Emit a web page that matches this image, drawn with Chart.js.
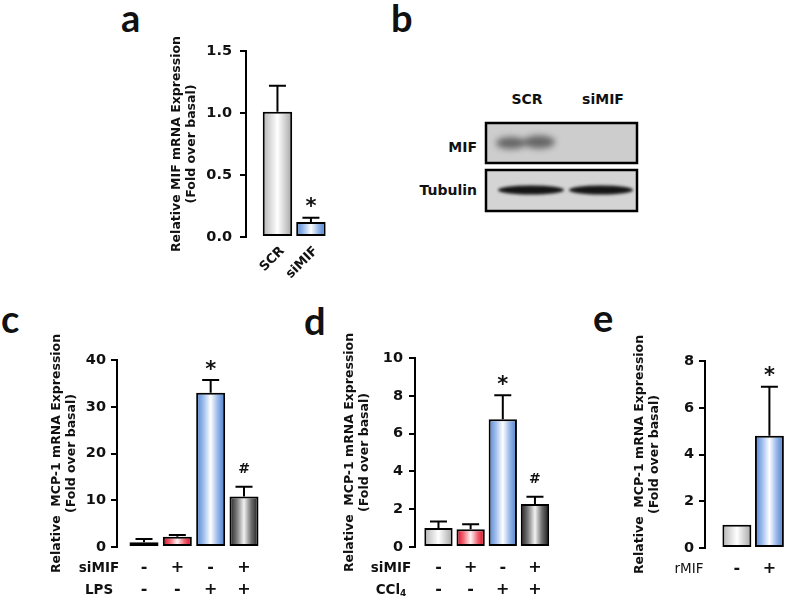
<!DOCTYPE html>
<html>
<head>
<meta charset="utf-8">
<script src="https://cdn.jsdelivr.net/npm/chart.js@4.4.1/dist/chart.umd.min.js"></script>
<style>
  body { margin: 0; background: #fff; }
  #page { position: relative; width: 787px; height: 600px; overflow: hidden; background: #fff; }
  canvas { position: absolute; }
  .letter { position: absolute; font: bold 38px Lato, sans-serif; line-height: 38px; color: #111; }
  .blot-lbl { position: absolute; font: bold 14px "DejaVu Sans", sans-serif; line-height: 16px; color: #111; white-space: nowrap; }
</style>
</head>
<body>
<div id="page">
  <div class="letter" style="left:121px;top:-2px">a</div>
  <div class="letter" style="left:391px;top:-2px">b</div>
  <div class="letter" style="left:1px;top:299px">c</div>
  <div class="letter" style="left:304px;top:301px">d</div>
  <div class="letter" style="left:593px;top:298px">e</div>

  <div class="blot-lbl" style="left:497px;top:91px;width:60px;text-align:center">SCR</div>
  <div class="blot-lbl" style="left:573px;top:91px;width:60px;text-align:center">siMIF</div>
  <div class="blot-lbl" style="left:417px;top:139px;width:60px;text-align:right">MIF</div>
  <div class="blot-lbl" style="left:397px;top:182px;width:80px;text-align:right">Tubulin</div>
  <canvas id="blot" width="165" height="105" style="left:480px;top:115px"></canvas>

  <canvas id="chartA" width="240" height="300" style="left:100px;top:0px"></canvas>
  <canvas id="chartC" width="280" height="300" style="left:0px;top:300px"></canvas>
  <canvas id="chartD" width="280" height="300" style="left:280px;top:300px"></canvas>
  <canvas id="chartE" width="227" height="300" style="left:560px;top:300px"></canvas>
</div>
<script>
// ---- data ----
// a: MIF mRNA after knock-down
const aLabels = ['SCR', 'siMIF'];
const aMean = [1.01, 0.12];
const aErr = [0.21, 0.035];
const aSig = ['', '*'];
const aTicks = [0, 0.5, 1.0, 1.5];
const aTickLabels = ['0.0', '0.5', '1.0', '1.5'];

// c: MCP-1 with LPS
const cSiMIF = ['-', '+', '-', '+'];
const cLPS = ['-', '-', '+', '+'];
const cMean = [1.0, 2.2, 33.0, 10.8];
const cErr = [0.7, 0.35, 2.7, 2.1];
const cSig = ['', '', '*', '#'];
const cTicks = [0, 10, 20, 30, 40];
const cTickLabels = ['0', '10', '20', '30', '40'];

// d: MCP-1 with CCl4
const dSiMIF = ['-', '+', '-', '+'];
const dCCl4 = ['-', '-', '+', '+'];
const dMean = [1.0, 0.94, 6.76, 2.28];
const dErr = [0.35, 0.26, 1.27, 0.38];
const dSig = ['', '', '*', '#'];
const dTicks = [0, 2, 4, 6, 8, 10];
const dTickLabels = ['0', '2', '4', '6', '8', '10'];

// e: MCP-1 with recombinant MIF
const eRMIF = ['-', '+'];
const eMean = [1.0, 4.8];
const eErr = [0, 2.1];
const eSig = ['', '*'];
const eTicks = [0, 2, 4, 6, 8];
const eTickLabels = ['0', '2', '4', '6', '8'];

const FONT = '"DejaVu Sans", sans-serif';
const MCP_TITLE = ['Relative  MCP-1 mRNA Expression', '(Fold over basal)'];

// cylinder-like fills: edge, shoulder, centre, shoulder, edge
const palette = {
  grey: ['#b3b3b3', '#d9d9d9', '#ffffff', '#d2d2d2', '#a4a4a4'],
  blue: ['#4f84d2', '#9dbdec', '#ffffff', '#95b6e8', '#4a7cca'],
  red: ['#e0001a', '#f06a78', '#fff4f4', '#ee6271', '#d80018'],
  dark: ['#1e1e1e', '#7a7a7a', '#f2f2f2', '#6e6e6e', '#181818']
};

function barFill(fills, pct) {
  return ctx => {
    if (ctx.type !== 'data') return '#ccc';
    const x = ctx.chart.scales.x;
    const cx = x ? x.getPixelForValue(ctx.dataIndex) : NaN;
    const half = x ? (x.getPixelForValue(1) - x.getPixelForValue(0)) * pct / 2 : NaN;
    const c = palette[fills[ctx.dataIndex]];
    if (!isFinite(cx) || !isFinite(half) || half <= 0) return c[0];
    const g = ctx.chart.ctx.createLinearGradient(cx - half, 0, cx + half, 0);
    c.forEach((col, k) => g.addColorStop(k / (c.length - 1), col));
    return g;
  };
}

// error bars, significance marks and the +/- rows under the bars
function makeExtras(cfg) {
  return {
    id: 'extras',
    afterDatasetsDraw(chart) {
      const {ctx, scales: {y}} = chart;
      const bars = chart.getDatasetMeta(0).data;
      ctx.save();
      ctx.strokeStyle = '#000';
      ctx.lineWidth = 2;
      ctx.fillStyle = '#111';
      ctx.textAlign = 'center';
      ctx.textBaseline = 'middle';
      cfg.mean.forEach((m, i) => {
        const b = bars[i];
        const tip = y.getPixelForValue(m + cfg.err[i]);
        if (cfg.err[i] > 0) {
          ctx.beginPath();
          ctx.moveTo(b.x, b.y);
          ctx.lineTo(b.x, tip);
          ctx.moveTo(b.x - 8.5, tip);
          ctx.lineTo(b.x + 8.5, tip);
          ctx.stroke();
        }
        if (cfg.sig[i] === '*') {
          ctx.font = 'bold 21px ' + FONT;
          ctx.fillText('*', b.x, tip - 10);
        } else if (cfg.sig[i] === '#') {
          ctx.font = 'bold 14px ' + FONT;
          ctx.fillText('#', b.x, tip - 17);
        }
      });

      (cfg.rows || []).forEach((row, k) => {
        const ry = y.bottom + 21 + k * 22;
        const wt = row.weight || 'bold';
        ctx.textAlign = 'left';
        ctx.font = wt + ' 13.5px ' + FONT;
        const w1 = ctx.measureText(row.name).width;
        let w2 = 0;
        if (row.sub) {
          ctx.font = wt + ' 9px ' + FONT;
          w2 = ctx.measureText(row.sub).width;
        }
        const sx = cfg.nameX - (w1 + w2) / 2;
        ctx.font = wt + ' 13.5px ' + FONT;
        ctx.fillText(row.name, sx, ry);
        if (row.sub) {
          ctx.font = wt + ' 9px ' + FONT;
          ctx.fillText(row.sub, sx + w1, ry + 4);
        }
        ctx.textAlign = 'center';
        ctx.font = 'bold 16px ' + FONT;
        row.signs.forEach((s, i) => ctx.fillText(s, bars[i].x, ry));
      });

      (cfg.rotLabels || []).forEach((lab, i) => {
        ctx.save();
        ctx.translate(bars[i].x + 5, y.bottom + 12);
        ctx.rotate(-Math.PI / 4);
        ctx.textAlign = 'right';
        ctx.font = 'bold 13px ' + FONT;
        ctx.fillText(lab, 0, 0);
        ctx.restore();
      });
      ctx.restore();
    }
  };
}

function yScale(ticks, labels, title, titleSize, labelPad, boxWidth) {
  return {
    min: ticks[0],
    max: ticks[ticks.length - 1],
    afterBuildTicks: s => { s.ticks = ticks.map(v => ({value: v})); },
    afterFit: s => { s.width = boxWidth; },
    ticks: {
      autoSkip: false,
      color: '#111',
      padding: labelPad,
      font: {family: FONT, size: 14.5, weight: 'bold'},
      callback: (v, i) => labels[i]
    },
    grid: {drawOnChartArea: false, drawTicks: true, tickLength: 6, color: '#000', lineWidth: 2},
    border: {display: true, color: '#000', width: 2},
    title: {
      display: true,
      text: title,
      color: '#111',
      padding: 0,
      font: {family: FONT, size: titleSize, weight: 'bold', lineHeight: 1.2}
    }
  };
}

function barChart(id, o) {
  return new Chart(document.getElementById(id), {
    type: 'bar',
    data: {
      datasets: [{
        data: o.mean.map((v, i) => ({x: i, y: v})),
        backgroundColor: barFill(o.fills, o.barPct),
        borderColor: '#000',
        borderWidth: 2,
        borderSkipped: false,
        barPercentage: o.barPct,
        categoryPercentage: 1
      }]
    },
    options: {
      responsive: false,
      animation: false,
      events: [],
      layout: {padding: o.pad},
      plugins: {legend: {display: false}, tooltip: {enabled: false}},
      scales: {
        x: {type: 'linear', display: false, offset: false, min: o.xMin, max: o.xMax},
        y: yScale(o.ticks, o.tickLabels, o.title, 12.5, o.labelPad, o.boxWidth)
      }
    },
    plugins: [makeExtras(o)]
  });
}

barChart('chartA', {
  mean: aMean, err: aErr, sig: aSig, fills: ['grey', 'blue'],
  ticks: aTicks, tickLabels: aTickLabels,
  title: ['Relative MIF mRNA Expression', '(Fold over basal)'],
  rotLabels: aLabels,
  barPct: 0.88, xMin: -0.94, xMax: 1.57,
  pad: {top: 51, bottom: 63, left: 69, right: 10}, boxWidth: 77, labelPad: 8
});

barChart('chartC', {
  mean: cMean, err: cErr, sig: cSig, fills: ['grey', 'red', 'blue', 'dark'],
  ticks: cTicks, tickLabels: cTickLabels, title: MCP_TITLE,
  rows: [{name: 'siMIF', signs: cSiMIF}, {name: 'LPS', signs: cLPS}], nameX: 99,
  barPct: 0.87, xMin: -0.81, xMax: 3.54,
  pad: {top: 60, bottom: 53, left: 49, right: 18}, boxWidth: 68, labelPad: 5
});

barChart('chartD', {
  mean: dMean, err: dErr, sig: dSig, fills: ['grey', 'red', 'blue', 'dark'],
  ticks: dTicks, tickLabels: dTickLabels, title: MCP_TITLE,
  rows: [{name: 'siMIF', signs: dSiMIF}, {name: 'CCl', sub: '4', signs: dCCl4}], nameX: 111,
  barPct: 0.88, xMin: -0.73, xMax: 3.53,
  pad: {top: 58, bottom: 53, left: 62, right: 8}, boxWidth: 73, labelPad: 6
});

barChart('chartE', {
  mean: eMean, err: eErr, sig: eSig, fills: ['grey', 'blue'],
  ticks: eTicks, tickLabels: eTickLabels, title: MCP_TITLE,
  rows: [{name: 'rMIF', signs: eRMIF, weight: 'normal'}], nameX: 129,
  barPct: 0.89, xMin: -0.98, xMax: 1.51,
  pad: {top: 61, bottom: 52, left: 72, right: 1}, boxWidth: 73, labelPad: 5
});

// b: western blot strips (image, not data)
(function drawBlot() {
  const ctx = document.getElementById('blot').getContext('2d');
  ctx.fillStyle = '#cdcdcd';
  ctx.fillRect(6, 8, 151, 40);
  ctx.fillStyle = '#d4d4d4';
  ctx.fillRect(6, 55, 151, 41);

  ctx.save();
  ctx.filter = 'blur(3px)';
  ctx.fillStyle = 'rgba(75,75,75,0.8)';
  ctx.beginPath();
  ctx.ellipse(31, 28, 15, 6, 0, 0, Math.PI * 2);
  ctx.ellipse(59, 27, 16, 6.5, 0, 0, Math.PI * 2);
  ctx.fill();
  ctx.restore();

  ctx.save();
  ctx.filter = 'blur(1.5px)';
  ctx.fillStyle = '#151515';
  ctx.beginPath();
  ctx.ellipse(51, 75, 33, 4.5, 0, 0, Math.PI * 2);
  ctx.ellipse(121, 75, 32, 4.5, 0, 0, Math.PI * 2);
  ctx.fill();
  ctx.restore();

  ctx.strokeStyle = '#000';
  ctx.lineWidth = 2.5;
  ctx.strokeRect(6, 8, 151, 40);
  ctx.strokeRect(6, 55, 151, 41);
})();
</script>
</body>
</html>
